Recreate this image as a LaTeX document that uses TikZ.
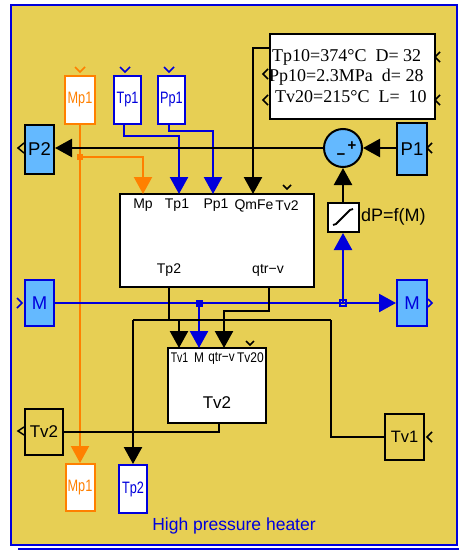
\documentclass[tikz,border=0pt]{standalone}
\usepackage{fontspec}
\usepackage{graphicx}
\setmainfont{Liberation Sans}
\newfontfamily\serifp{Liberation Serif}
\usetikzlibrary{arrows.meta}
\definecolor{yel}{RGB}{231,207,84}
\definecolor{cyanf}{RGB}{100,185,255}
\definecolor{blueC}{RGB}{0,0,220}
\definecolor{oraC}{RGB}{255,128,0}
\newcommand\fsz[1]{\fontsize{#1}{#1}\selectfont}
\newcommand\cnd[1]{\scalebox{0.77}[1]{#1}}
\begin{document}
\begin{tikzpicture}[x=1pt,y=-1pt,
  blk/.style={draw,line width=2pt,inner sep=0pt},
  kline/.style={line width=2.4pt,black},
  bline/.style={line width=2.4pt,blueC},
  oline/.style={line width=2.2pt,oraC},
  arw/.style={-{Triangle[length=17pt,width=18pt]}},
  chev/.style={line width=1.5pt},
  plab/.style={font=\fsz{14},inner sep=0pt},
  tlab/.style={font=\fsz{14},inner sep=0pt}]
\useasboundingbox (0,0) rectangle (459,551);
\fill[white] (0,0) rectangle (459,551);
\draw[blueC,line width=1.5pt] (18,549) -- (459,549);
\draw[blueC,line width=2pt,fill=yel] (11,5) rectangle (457,545);

% source / sink boxes
\node[blk,draw=oraC,fill=white,text=oraC,minimum width=30pt,minimum height=48pt,font=\fsz{16.5}] (mp1top) at (80,100) {\cnd{Mp1}};
\node[blk,draw=blueC,fill=white,text=blueC,minimum width=27pt,minimum height=48pt,font=\fsz{16.5}] (tp1top) at (127.5,100) {\cnd{Tp1}};
\node[blk,draw=blueC,fill=white,text=blueC,minimum width=27pt,minimum height=48pt,font=\fsz{16.5}] (pp1top) at (171.5,100) {\cnd{Pp1}};
\node[blk,fill=cyanf,minimum width=29pt,minimum height=49pt,font=\fsz{18.5}] (p2) at (39.5,149.5) {P2};
\node[blk,fill=cyanf,minimum width=30pt,minimum height=52pt,font=\fsz{18.5}] (p1) at (412,149) {P1};
\node[blk,draw=blueC,fill=cyanf,text=blueC,minimum width=29pt,minimum height=46pt,font=\fsz{18.5}] (mleft) at (39.5,303) {M};
\node[blk,draw=blueC,fill=cyanf,text=blueC,minimum width=30pt,minimum height=46pt,font=\fsz{18.5}] (mright) at (412,303) {M};
\node[blk,minimum width=38pt,minimum height=46pt,font=\fsz{17}] (tv2left) at (44,432) {Tv2};
\node[blk,minimum width=39pt,minimum height=46pt,font=\fsz{16.5}] (tv1right) at (404.5,437) {Tv1};
\node[blk,draw=oraC,fill=white,text=oraC,minimum width=29pt,minimum height=47pt,font=\fsz{16.5}] (mp1bot) at (80,487.5) {\cnd{Mp1}};
\node[blk,draw=blueC,fill=white,text=blueC,minimum width=28pt,minimum height=48pt,font=\fsz{16.5}] (tp2bot) at (133,489) {\cnd{Tp2}};

% main block
\node[blk,fill=white,minimum width=194pt,minimum height=93pt] (main) at (217,240.5) {};
\node[plab] (lMp) at (143,205.5) {Mp};
\node[plab] (lTp1) at (177,205.5) {Tp1};
\node[plab] (lPp1) at (216,205.5) {Pp1};
\node[plab] (lQ) at (254,205.5) {QmFe};
\node[plab] (lTv2) at (287,205.5) {Tv2};
\node[plab] (lTp2) at (169,270) {Tp2};
\node[plab] (lQtr) at (268,270) {qtr\textminus v};
\coordinate (mMp) at (143,194);
\coordinate (mTp1) at (179,194);
\coordinate (mPp1) at (213,194);
\coordinate (mQ) at (253,194);
\coordinate (mTp2) at (169,287);
\coordinate (mQtr) at (269,287);

% Tv2 block
\node[blk,fill=white,minimum width=98pt,minimum height=75pt] (tv2b) at (217,385.5) {};
\node[tlab] (tl1) at (179.5,358) {\scalebox{0.75}[1]{Tv1}};
\node[tlab] (tl2) at (199,358) {\scalebox{0.85}[1]{M}};
\node[tlab] (tl3) at (221.5,358) {\scalebox{0.84}[1]{qtr\textminus v}};
\node[tlab] (tl4) at (250.5,358) {\scalebox{0.86}[1]{Tv20}};
\node[font=\fsz{17},inner sep=0pt] (tl5) at (217,403) {Tv2};
\coordinate (tTv1) at (179,348);
\coordinate (tM) at (199,348);
\coordinate (tQtr) at (224,348);
\coordinate (tOut) at (219,423);

% parameter box
\node[blk,fill=white,minimum width=165pt,minimum height=85pt] (params) at (352.5,76.5) {};
\node[anchor=west,inner sep=0pt,font=\serifp\fsz{18}] (pl1) at (272,57) {Tp10=374°C\ \ D= 32};
\node[anchor=west,inner sep=0pt,font=\serifp\fsz{18}] (pl2) at (269,77) {Pp10=2.3MPa\ \ d= 28};
\node[anchor=west,inner sep=0pt,font=\serifp\fsz{18}] (pl3) at (275,97) {Tv20=215°C\ \ L=\ \ 10};
\coordinate (qsrc) at (270,48);

% sum and dP block
\node[draw,line width=2pt,circle,fill=cyanf,minimum size=38pt,inner sep=0pt] (sum) at (343,148) {};
\node[font=\bfseries\fsz{15},inner sep=0pt] (splus) at (352,146) {+};
\node[font=\bfseries\fsz{15},inner sep=0pt] (sminus) at (341,157) {\textminus};
\node[blk,fill=white,minimum width=31pt,minimum height=29pt] (dp) at (343,217.5) {};
\draw[line width=1.8pt] (333,225) -- (336,224) -- (350,210) -- (353,209);
\node[anchor=west,font=\fsz{18},inner sep=0pt] (dplab) at (361,217) {dP=f(M)};

% chevrons
\draw[chev,oraC] (75,67) -- (80,72) -- (85,67);
\draw[chev,blueC] (120,67) -- (125,72) -- (130,67);
\draw[chev,blueC] (164,67) -- (169,72) -- (174,67);
\draw[chev] (283,185) -- (287,189) -- (291,185);
\draw[chev] (246,341) -- (250,345) -- (254,341);
\draw[chev] (24,143) -- (18,148) -- (24,153);
\draw[chev] (432,143) -- (427,148) -- (432,153);
\draw[chev] (440,52) -- (435,57) -- (440,62);
\draw[chev] (440,95) -- (435,100) -- (440,105);
\draw[chev] (268,69) -- (263,74) -- (268,79);
\draw[chev] (268,95) -- (263,100) -- (268,105);
\draw[chev,blueC] (17,298) -- (22,303) -- (17,308);
\draw[chev,blueC] (428,299) -- (432,303) -- (428,307);
\draw[chev] (24,427) -- (18,431) -- (24,435);
\draw[chev] (432,432) -- (427,437) -- (432,442);

% connectors
\coordinate (jo) at (80,157);
\draw[oline,arw] (mp1top.south) -- (mp1bot.north);
\draw[oline,arw] (jo) -| (mMp);
\fill[oraC] (77,154) rectangle (83,160);
\draw[bline,arw] ([xshift=-3.5pt]tp1top.south) -- ++(0,11) -| (mTp1);
\draw[bline,arw] ([xshift=-2.5pt]pp1top.south) -- ++(0,6) -| (mPp1);
\draw[kline,arw] (qsrc) -| (mQ);
\draw[kline,arw] (p1.west |- sum.east) -- (sum.east);
\draw[kline,arw] (sum.west) -- (sum.west -| p2.east);
\draw[kline,arw] (dp.north) -- (sum.south);
\coordinate (jm1) at (199,303);
\coordinate (jm2) at (343,303);
\draw[bline,arw] (mleft.east) -- (mright.west);
\draw[bline,arw] (jm1) -- (tM);
\draw[bline,arw] (jm2) -- (dp.south);
\fill[blueC] (195.5,299.5) rectangle (202.5,306.5);
\draw[blueC,line width=1.4pt] (340,300) rectangle (346,306);
\coordinate (ha) at (133,320);
\coordinate (hb) at (331,320);
\draw[kline] (mTp2) -- (mTp2 |- ha);
\draw[kline] (ha) -- (hb);
\draw[kline,arw] (ha) -- (tp2bot.north);
\draw[kline,arw] (tTv1 |- ha) -- (tTv1);
\draw[kline] (hb) |- (tv1right.west);
\draw[kline,arw] (mQtr) -- ++(0,24) -| (tQtr);
\draw[kline] (tOut) |- (tv2left.east);

% title
\node[text=blueC,font=\fsz{17.5},inner sep=0pt] (title) at (234,526) {High pressure heater};
\end{tikzpicture}
\end{document}
